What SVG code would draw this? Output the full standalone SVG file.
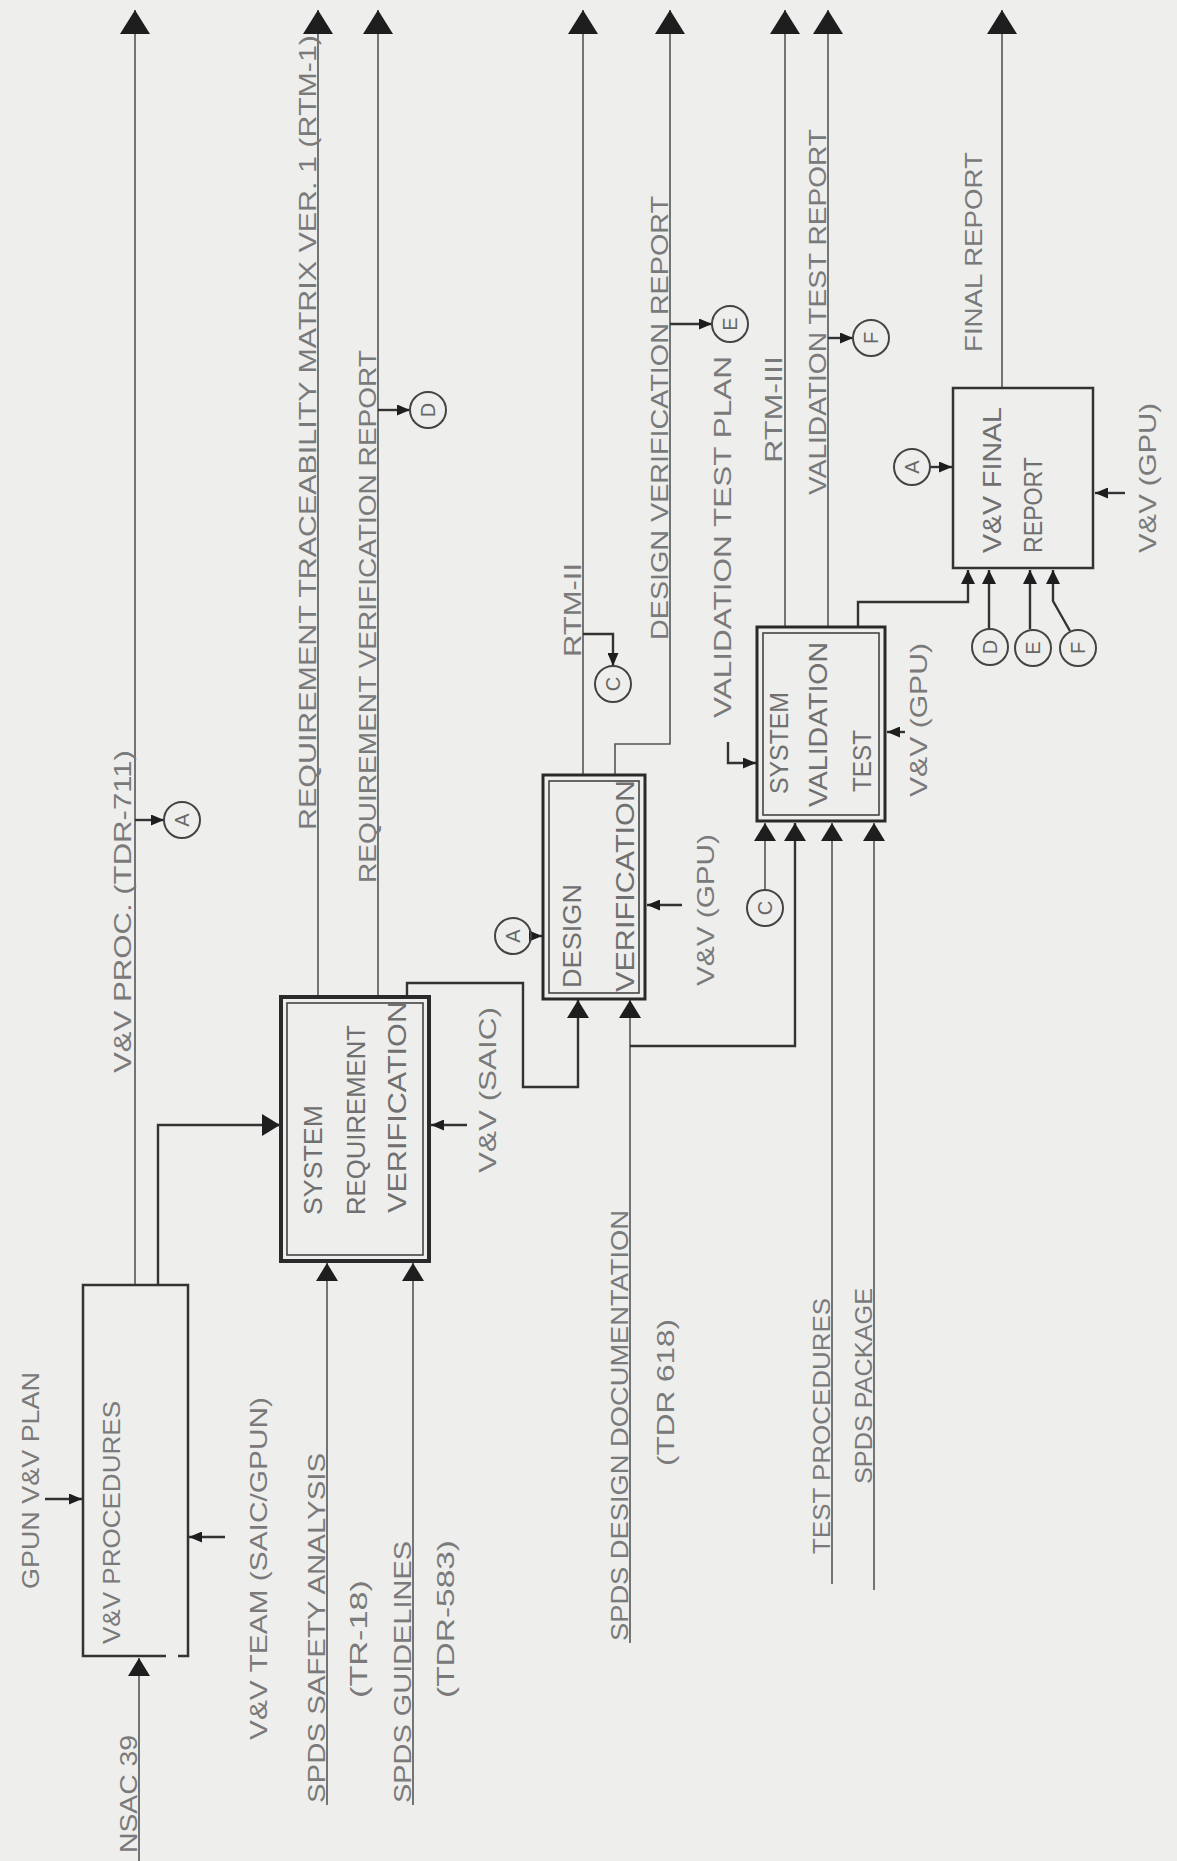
<svg xmlns="http://www.w3.org/2000/svg" width="1177" height="1861" viewBox="0 0 1177 1861">
<defs>
<style>
.t{font-family:"Liberation Sans Narrow","Liberation Sans",Arial,sans-serif;font-size:24px;fill:#7a7a7a;}
.tb{font-size:26px;fill:#707070;}
.cl{font-family:"Liberation Sans",Arial,sans-serif;font-size:20px;fill:#666;text-anchor:middle;dominant-baseline:central;}
.ln{fill:none;stroke:#555;stroke-width:1.6;}
.lnd{fill:none;stroke:#333;stroke-width:2.4;}
.bx{fill:none;stroke:#333;stroke-width:2.5;}
.bxo{fill:none;stroke:#2a2a2a;stroke-width:4;}
.bxi{fill:none;stroke:#444;stroke-width:1.6;}
.circ{fill:none;stroke:#444;stroke-width:2;}
</style>
<marker id="ab" markerUnits="userSpaceOnUse" markerWidth="24" markerHeight="30" viewBox="0 0 24 30" refX="24" refY="15" orient="auto"><path d="M0,0 L24,15 L0,30 Z" fill="#1e1e1e"/></marker>
<marker id="am" markerUnits="userSpaceOnUse" markerWidth="18" markerHeight="22" viewBox="0 0 18 22" refX="18" refY="11" orient="auto"><path d="M0,0 L18,11 L0,22 Z" fill="#1e1e1e"/></marker>
<marker id="ams" markerUnits="userSpaceOnUse" markerWidth="14" markerHeight="14" viewBox="0 0 14 14" refX="14" refY="7" orient="auto"><path d="M0,0 L14,7 L0,14 Z" fill="#1e1e1e"/></marker>
<marker id="as" markerUnits="userSpaceOnUse" markerWidth="13" markerHeight="11" viewBox="0 0 13 11" refX="13" refY="5.5" orient="auto"><path d="M0,0 L13,5.5 L0,11 Z" fill="#1e1e1e"/></marker>
</defs>
<rect x="0" y="0" width="1177" height="1861" fill="#eeeeec"/>

<g id="connectors">
<path class="ln" d="M139,1861 V1658" marker-end="url(#am)"/>
<path class="lnd" d="M45,1499 H82" marker-end="url(#as)"/>
<path class="lnd" d="M225,1537 H189" marker-end="url(#as)"/>
<path class="ln" d="M135,1285 V10" marker-end="url(#ab)"/>
<path class="lnd" d="M135,820 H164" marker-end="url(#as)"/>
<path class="lnd" d="M158,1285 V1125 H280" marker-end="url(#am)"/>
<path class="ln" d="M327,1805 V1263" marker-end="url(#am)"/>
<path class="ln" d="M413,1805 V1263" marker-end="url(#am)"/>
<path class="lnd" d="M467,1125 H431" marker-end="url(#as)"/>
<path class="ln" d="M318,997 V10" marker-end="url(#ab)"/>
<path class="ln" d="M378,997 V10" marker-end="url(#ab)"/>
<path class="lnd" d="M378,410 H410" marker-end="url(#as)"/>
<path class="lnd" d="M407,997 V983 H523 V1087 H578 V1000" marker-end="url(#am)"/>
<path class="ln" d="M630,1643 V1000" marker-end="url(#am)"/>
<path class="lnd" d="M630,1046 H795 V823" marker-end="url(#am)"/>
<path class="lnd" d="M531,936 H542" marker-end="url(#as)"/>
<path class="lnd" d="M682,905 H647" marker-end="url(#as)"/>
<path class="ln" d="M583,775 V10" marker-end="url(#ab)"/>
<path class="lnd" d="M583,634 H613 V666" marker-end="url(#as)"/>
<path class="ln" d="M615,775 V744 H670 V10" marker-end="url(#ab)"/>
<path class="lnd" d="M670,324 H712" marker-end="url(#as)"/>
<path class="ln" d="M765,890 V823" marker-end="url(#am)"/>
<path class="ln" d="M832,1584 V823" marker-end="url(#am)"/>
<path class="ln" d="M874,1590 V823" marker-end="url(#am)"/>
<path class="lnd" d="M728,742 V763 H756" marker-end="url(#as)"/>
<path class="lnd" d="M905,732 H887" marker-end="url(#as)"/>
<path class="ln" d="M785,627 V10" marker-end="url(#ab)"/>
<path class="ln" d="M828,627 V10" marker-end="url(#ab)"/>
<path class="lnd" d="M828,338 H853" marker-end="url(#as)"/>
<path class="lnd" d="M858,627 V602 H968 V570" marker-end="url(#ams)"/>
<path class="ln" d="M1002,388 V10" marker-end="url(#ab)"/>
<path class="lnd" d="M930,467 H952" marker-end="url(#as)"/>
<path class="lnd" d="M1125,493 H1095" marker-end="url(#as)"/>
<path class="lnd" d="M989,629 V570" marker-end="url(#ams)"/>
<path class="lnd" d="M1030,629 V570" marker-end="url(#ams)"/>
<path class="lnd" d="M1070,631 L1053,601 V570" marker-end="url(#ams)"/>
</g>

<g id="vv-procedures">
<path class="bx" d="M178,1656 H188 V1285 H83 V1656 H166"/>
<text class="t" transform="translate(120,1644) rotate(-90)" textLength="243" lengthAdjust="spacingAndGlyphs">V&amp;V PROCEDURES</text>
</g>
<g id="lbl-gpun"><text class="t" transform="translate(39,1589) rotate(-90)" textLength="217" lengthAdjust="spacingAndGlyphs">GPUN V&amp;V PLAN</text></g>
<g id="lbl-team"><text class="t" transform="translate(267,1740) rotate(-90)" textLength="343" lengthAdjust="spacingAndGlyphs">V&amp;V TEAM (SAIC/GPUN)</text></g>
<g id="lbl-nsac"><text class="t" transform="translate(137,1853) rotate(-90)" textLength="118" lengthAdjust="spacingAndGlyphs">NSAC 39</text></g>
<g id="lbl-vvproc"><text class="t" transform="translate(131,1073) rotate(-90)" textLength="323" lengthAdjust="spacingAndGlyphs">V&amp;V PROC. (TDR-711)</text></g>

<g id="sys-req-verif">
<rect class="bxo" x="281" y="997" width="148" height="264"/>
<rect class="bxi" x="287" y="1003" width="136" height="252"/>
<text class="t tb" transform="translate(322,1215) rotate(-90)" textLength="110" lengthAdjust="spacingAndGlyphs">SYSTEM</text>
<text class="t tb" transform="translate(365,1215) rotate(-90)" textLength="190" lengthAdjust="spacingAndGlyphs">REQUIREMENT</text>
<text class="t tb" transform="translate(406,1213) rotate(-90)" textLength="212" lengthAdjust="spacingAndGlyphs">VERIFICATION</text>
</g>
<g id="lbl-saic"><text class="t" transform="translate(496,1173) rotate(-90)" textLength="166" lengthAdjust="spacingAndGlyphs">V&amp;V (SAIC)</text></g>
<g id="lbl-safety"><text class="t" transform="translate(325,1803) rotate(-90)" textLength="350" lengthAdjust="spacingAndGlyphs">SPDS SAFETY ANALYSIS</text></g>
<g id="lbl-tr18"><text class="t" transform="translate(367,1698) rotate(-90)" textLength="118" lengthAdjust="spacingAndGlyphs">(TR-18)</text></g>
<g id="lbl-guide"><text class="t" transform="translate(411,1803) rotate(-90)" textLength="262" lengthAdjust="spacingAndGlyphs">SPDS GUIDELINES</text></g>
<g id="lbl-tdr583"><text class="t" transform="translate(454,1698) rotate(-90)" textLength="158" lengthAdjust="spacingAndGlyphs">(TDR-583)</text></g>
<g id="lbl-rtm1"><text class="t" transform="translate(316,830) rotate(-90)" textLength="795" lengthAdjust="spacingAndGlyphs">REQUIREMENT TRACEABILITY MATRIX VER. 1 (RTM-1)</text></g>
<g id="lbl-rvr"><text class="t" transform="translate(376,883) rotate(-90)" textLength="533" lengthAdjust="spacingAndGlyphs">REQUIREMENT VERIFICATION REPORT</text></g>

<g id="design-verif">
<rect class="bxo" x="543" y="775" width="102" height="224" style="stroke-width:3"/>
<rect class="bxi" x="549" y="781" width="90" height="212"/>
<text class="t tb" transform="translate(581,988) rotate(-90)" textLength="104" lengthAdjust="spacingAndGlyphs">DESIGN</text>
<text class="t tb" transform="translate(634,992) rotate(-90)" textLength="212" lengthAdjust="spacingAndGlyphs">VERIFICATION</text>
</g>
<g id="lbl-gpu1"><text class="t" transform="translate(714,986) rotate(-90)" textLength="152" lengthAdjust="spacingAndGlyphs">V&amp;V (GPU)</text></g>
<g id="lbl-rtm2"><text class="t" transform="translate(581,657) rotate(-90)" textLength="94" lengthAdjust="spacingAndGlyphs">RTM-II</text></g>
<g id="lbl-dvr"><text class="t" transform="translate(668,640) rotate(-90)" textLength="444" lengthAdjust="spacingAndGlyphs">DESIGN VERIFICATION REPORT</text></g>
<g id="lbl-sdd"><text class="t" transform="translate(628,1641) rotate(-90)" textLength="431" lengthAdjust="spacingAndGlyphs">SPDS DESIGN DOCUMENTATION</text></g>
<g id="lbl-tdr618"><text class="t" transform="translate(674,1466) rotate(-90)" textLength="147" lengthAdjust="spacingAndGlyphs">(TDR 618)</text></g>
<g id="lbl-testproc"><text class="t" transform="translate(830,1554) rotate(-90)" textLength="256" lengthAdjust="spacingAndGlyphs">TEST PROCEDURES</text></g>
<g id="lbl-pkg"><text class="t" transform="translate(872,1484) rotate(-90)" textLength="196" lengthAdjust="spacingAndGlyphs">SPDS PACKAGE</text></g>

<g id="sys-valid-test">
<rect class="bxo" x="757" y="627" width="128" height="194" style="stroke-width:3"/>
<rect class="bxi" x="763" y="633" width="116" height="182"/>
<text class="t tb" transform="translate(788,794) rotate(-90)" textLength="102" lengthAdjust="spacingAndGlyphs">SYSTEM</text>
<text class="t tb" transform="translate(827,807) rotate(-90)" textLength="165" lengthAdjust="spacingAndGlyphs">VALIDATION</text>
<text class="t tb" transform="translate(871,792) rotate(-90)" textLength="62" lengthAdjust="spacingAndGlyphs">TEST</text>
</g>
<g id="lbl-vtp"><text class="t" transform="translate(731,718) rotate(-90)" textLength="362" lengthAdjust="spacingAndGlyphs">VALIDATION TEST PLAN</text></g>
<g id="lbl-rtm3"><text class="t" transform="translate(782,463) rotate(-90)" textLength="107" lengthAdjust="spacingAndGlyphs">RTM-III</text></g>
<g id="lbl-vtr"><text class="t" transform="translate(826,495) rotate(-90)" textLength="366" lengthAdjust="spacingAndGlyphs">VALIDATION TEST REPORT</text></g>
<g id="lbl-gpu2"><text class="t" transform="translate(927,797) rotate(-90)" textLength="154" lengthAdjust="spacingAndGlyphs">V&amp;V (GPU)</text></g>

<g id="vv-final-report">
<rect class="bx" x="953" y="388" width="140" height="180"/>
<text class="t tb" transform="translate(1001,553) rotate(-90)" textLength="146" lengthAdjust="spacingAndGlyphs">V&amp;V FINAL</text>
<text class="t tb" transform="translate(1042,553) rotate(-90)" textLength="96" lengthAdjust="spacingAndGlyphs">REPORT</text>
</g>
<g id="lbl-final"><text class="t" transform="translate(982,352) rotate(-90)" textLength="200" lengthAdjust="spacingAndGlyphs">FINAL REPORT</text></g>
<g id="lbl-gpu3"><text class="t" transform="translate(1156,553) rotate(-90)" textLength="150" lengthAdjust="spacingAndGlyphs">V&amp;V (GPU)</text></g>

<g id="circle-a1"><circle class="circ" cx="182" cy="820" r="18"/><text class="cl" transform="translate(182,820) rotate(-90)">A</text></g>
<g id="circle-d1"><circle class="circ" cx="428" cy="410" r="18"/><text class="cl" transform="translate(428,410) rotate(-90)">D</text></g>
<g id="circle-c1"><circle class="circ" cx="613" cy="684" r="18"/><text class="cl" transform="translate(613,684) rotate(-90)">C</text></g>
<g id="circle-e1"><circle class="circ" cx="730" cy="324" r="18"/><text class="cl" transform="translate(730,324) rotate(-90)">E</text></g>
<g id="circle-a2"><circle class="circ" cx="513" cy="936" r="18"/><text class="cl" transform="translate(513,936) rotate(-90)">A</text></g>
<g id="circle-c2"><circle class="circ" cx="765" cy="908" r="18"/><text class="cl" transform="translate(765,908) rotate(-90)">C</text></g>
<g id="circle-f1"><circle class="circ" cx="871" cy="338" r="18"/><text class="cl" transform="translate(871,338) rotate(-90)">F</text></g>
<g id="circle-a3"><circle class="circ" cx="912" cy="467" r="18"/><text class="cl" transform="translate(912,467) rotate(-90)">A</text></g>
<g id="circle-d2"><circle class="circ" cx="990" cy="647" r="18"/><text class="cl" transform="translate(990,647) rotate(-90)">D</text></g>
<g id="circle-e2"><circle class="circ" cx="1033" cy="648" r="18"/><text class="cl" transform="translate(1033,648) rotate(-90)">E</text></g>
<g id="circle-f2"><circle class="circ" cx="1078" cy="648" r="18"/><text class="cl" transform="translate(1078,648) rotate(-90)">F</text></g>
</svg>
